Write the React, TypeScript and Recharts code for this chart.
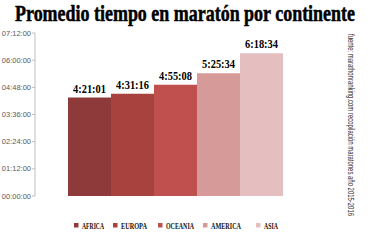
import { BarChart, Bar, XAxis, YAxis, LabelList, Legend } from "recharts";

const continents = ["AFRICA", "EUROPA", "OCEANIA", "AMERICA", "ASIA"];
const avgTimes = ["4:21:01", "4:31:16", "4:55:08", "5:25:34", "6:18:34"];
const barColors = ["#8e3a3a", "#a8423f", "#c0504d", "#d69a98", "#e5bfbf"];
const yTickLabels = ["00:00:00", "01:12:00", "02:24:00", "03:36:00", "04:48:00", "06:00:00", "07:12:00"];

const toSec = (s: string) => s.split(":").reduce((acc, p) => acc * 60 + Number(p), 0);
const pad = (n: number) => String(n).padStart(2, "0");
const fmtLong = (v: number) => `${pad(Math.floor(v / 3600))}:${pad(Math.floor((v % 3600) / 60))}:${pad(v % 60)}`;
const fmtShort = (v: number) => `${Math.floor(v / 3600)}:${pad(Math.floor((v % 3600) / 60))}:${pad(v % 60)}`;

const yTicks = yTickLabels.map(toSec);

const row: Record<string, string | number> = { name: "continente" };
continents.forEach((c, i) => {
  row[c] = toSec(avgTimes[i]);
});
const data = [row];

const serif = "'Liberation Serif', 'Times New Roman', serif";

const TopLabel = (props: any) => {
  const { x, y, width, value } = props;
  return (
    <text
      x={x + width / 2}
      y={y - 5}
      textAnchor="middle"
      fontFamily={serif}
      fontWeight="bold"
      fontSize={12}
      textLength={33}
      lengthAdjust="spacingAndGlyphs"
      fill="#000"
    >
      {fmtShort(value)}
    </text>
  );
};

const legendX = [74, 113, 158, 203, 256];
const legendW = [22, 26, 28, 30, 14];

const LegendContent = () => (
  <svg width={370} height={12} style={{ display: "block" }}>
    {continents.map((c, i) => (
      <g key={c}>
        <rect x={legendX[i]} y={3} width={4.5} height={4.5} fill={barColors[i]} />
        <text
          x={legendX[i] + 8}
          y={9}
          fontFamily={serif}
          fontWeight="bold"
          fontSize={9}
          textLength={legendW[i]}
          lengthAdjust="spacingAndGlyphs"
          fill="#111"
        >
          {c}
        </text>
      </g>
    ))}
  </svg>
);

export default function App() {
  return (
    <div style={{ position: "absolute", left: 0, top: 0, width: 370, height: 240, background: "#fff" }}>
      <BarChart
        width={370}
        height={240}
        data={data}
        margin={{ top: 33, right: 52, left: 0, bottom: 32 }}
        barCategoryGap={33}
        barGap={0}
      >
        <XAxis dataKey="name" tick={false} tickLine={false} height={0} axisLine={{ stroke: "#bfbfbf" }} />
        <YAxis
          type="number"
          domain={[0, yTicks[yTicks.length - 1]]}
          ticks={yTicks}
          interval={0}
          tickFormatter={fmtLong}
          width={35}
          tickSize={3}
          tickMargin={1}
          axisLine={{ stroke: "#bfbfbf" }}
          tickLine={{ stroke: "#bfbfbf" }}
          tick={{ fontSize: 7.5, fill: "#595959", fontFamily: "'Liberation Sans', Arial, sans-serif" }}
        />
        <Legend
          content={<LegendContent />}
          wrapperStyle={{ position: "absolute", left: 0, top: 220, width: 370 }}
        />
        {continents.map((c, i) => (
          <Bar key={c} dataKey={c} fill={barColors[i]} isAnimationActive={false}>
            <LabelList dataKey={c} content={<TopLabel />} />
          </Bar>
        ))}
      </BarChart>
      <svg width={370} height={240} style={{ position: "absolute", left: 0, top: 0, pointerEvents: "none" }}>
        <text
          x={0}
          y={0}
          transform="translate(185 21) scale(1 1.3)"
          textAnchor="middle"
          fontFamily={serif}
          fontWeight="bold"
          fontSize={18}
          textLength={340}
          lengthAdjust="spacingAndGlyphs"
          stroke="#000"
          strokeWidth={0.4}
          fill="#000"
        >
          Promedio tiempo en maratón por continente
        </text>
        <text
          x={0}
          y={0}
          transform="translate(348 34) rotate(90) scale(1 1.5)"
          fontFamily="'Liberation Sans', Arial, sans-serif"
          fontSize={6}
          textLength={182}
          lengthAdjust="spacingAndGlyphs"
          fill="#333"
        >
          fuente: marathonranking.com recopilación maratones año 2015-2016
        </text>
      </svg>
    </div>
  );
}
